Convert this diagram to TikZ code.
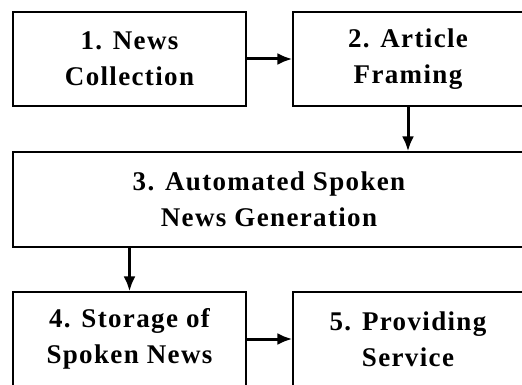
\documentclass[tikz,border=0pt]{standalone}
\usepackage{fontspec}
\setmainfont{Liberation Serif}[LetterSpace=5]
\usetikzlibrary{arrows.meta}

\tikzset{
	stage/.style={rectangle, draw, line width=1.2pt, align=center, inner sep=0pt,
		font=\fontsize{27}{36}\selectfont\bfseries},
	flow/.style={-{Latex[length=15pt,width=12pt]}, line width=3pt}
}

\begin{document}
\begin{tikzpicture}[x=1pt,y=-1pt]

	\useasboundingbox (0,0) rectangle (522,385);
	\clip (0,0) rectangle (522,385);

	\node (s1) [stage, minimum width=233pt, minimum height=94pt] at (129.5, 59) {1. News\\Collection};
	\node (s2) [stage, minimum width=230pt, minimum height=94pt] at (408, 59) {2. Article\\Framing};
	\node (s3) [stage, minimum width=512pt, minimum height=95pt] at (269, 199.5) {3. Automated Spoken\\News Generation};
	\node (s4) [stage, minimum width=233pt, minimum height=94pt] at (129.5, 339) {4. Storage of\\Spoken News};
	\node (s5) [stage, minimum width=230pt, minimum height=94pt] at (408, 339) {5. Providing\\Service};

	\path
	(s1) edge[flow] (s2)
	(s2) edge[flow] (s3.north -| s2)
	(s3.south -| s4) edge[flow] (s4)
	(s4) edge[flow] (s5);

\end{tikzpicture}
\end{document}
